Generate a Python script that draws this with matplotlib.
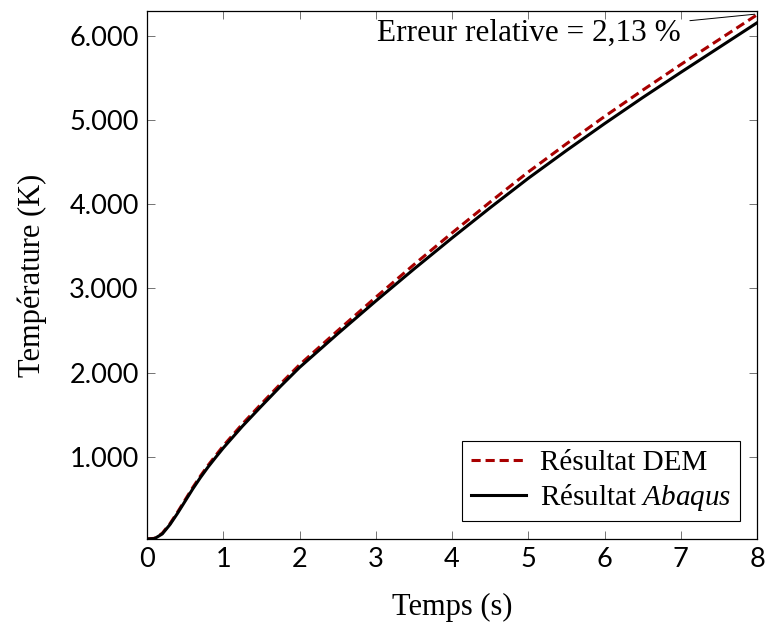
import numpy as np
import matplotlib.pyplot as plt
from matplotlib.ticker import FuncFormatter

# temps (s)
temps = [0, 0.1, 0.2, 0.3, 0.4, 0.5, 0.6, 0.7, 0.8, 0.9, 1.0, 1.25, 1.5, 1.75,
         2.0, 2.5, 3.0, 3.5, 4.0, 4.5, 5.0, 5.5, 6.0, 6.5, 7.0, 7.5, 8.0]
# température Abaqus (K)
t_abaqus = [20, 25, 80, 190, 325, 470, 615, 750, 875, 990, 1102, 1360, 1600, 1835,
            2060, 2460, 2850, 3230, 3600, 3960, 4310, 4640, 4960, 5270, 5570, 5865, 6160]
# température DEM (K)
t_dem = [20, 28, 88, 200, 338, 485, 632, 768, 895, 1012, 1127, 1387, 1628, 1864,
         2092, 2497, 2895, 3283, 3660, 4028, 4385, 4720, 5045, 5358, 5663, 5959, 6255]

xticks = [0, 1, 2, 3, 4, 5, 6, 7, 8]
yticks = [1000, 2000, 3000, 4000, 5000, 6000]

serif = "Liberation Serif"
sans = "Lato"

plt.rcParams.update({
    "font.family": serif,
    "mathtext.fontset": "custom",
    "mathtext.rm": serif,
    "mathtext.it": serif + ":italic",
    "axes.linewidth": 0.9,
})

fig = plt.figure(figsize=(7.68, 6.26), dpi=100)
ax = fig.add_axes([0.1914, 0.139, 0.7943, 0.8434])

ax.plot(temps, t_dem, color="#a80000", lw=2.2, dashes=(3, 1.6), label="Résultat DEM")
ax.plot(temps, t_abaqus, color="black", lw=2.2, label="Résultat $\\mathit{Abaqus}$")

ax.set_xlim(0, 8)
ax.set_ylim(20, 6300)
ax.set_xticks(xticks)
ax.set_yticks(yticks)
ax.yaxis.set_major_formatter(FuncFormatter(lambda v, p: "{:,.0f}".format(v).replace(",", ".")))
ax.tick_params(direction="in", length=6, width=0.7, color="0.45",
               top=True, right=True, labelsize=19.5, pad=6)
for lab in ax.get_xticklabels() + ax.get_yticklabels():
    lab.set_family(sans)

ax.set_xlabel("Temps (s)", fontsize=22, labelpad=15)
ax.set_ylabel("Température (K)", fontsize=22, labelpad=16)

ax.annotate("Erreur relative = 2,13 %", xy=(7.97, 6262), xytext=(7.0, 6030),
            ha="right", va="center", fontsize=22.5,
            arrowprops=dict(arrowstyle="-", lw=0.7, color="black",
                            relpos=(1.03, 0.95), shrinkA=0, shrinkB=0))

leg = ax.legend(loc="lower right", fontsize=21, fancybox=False, edgecolor="black",
                framealpha=1, borderaxespad=0.6, handlelength=1.9,
                handletextpad=0.45, borderpad=0.3, labelspacing=0.2)
leg.get_frame().set_linewidth(0.8)

fig.savefig("out.png", dpi=100)
